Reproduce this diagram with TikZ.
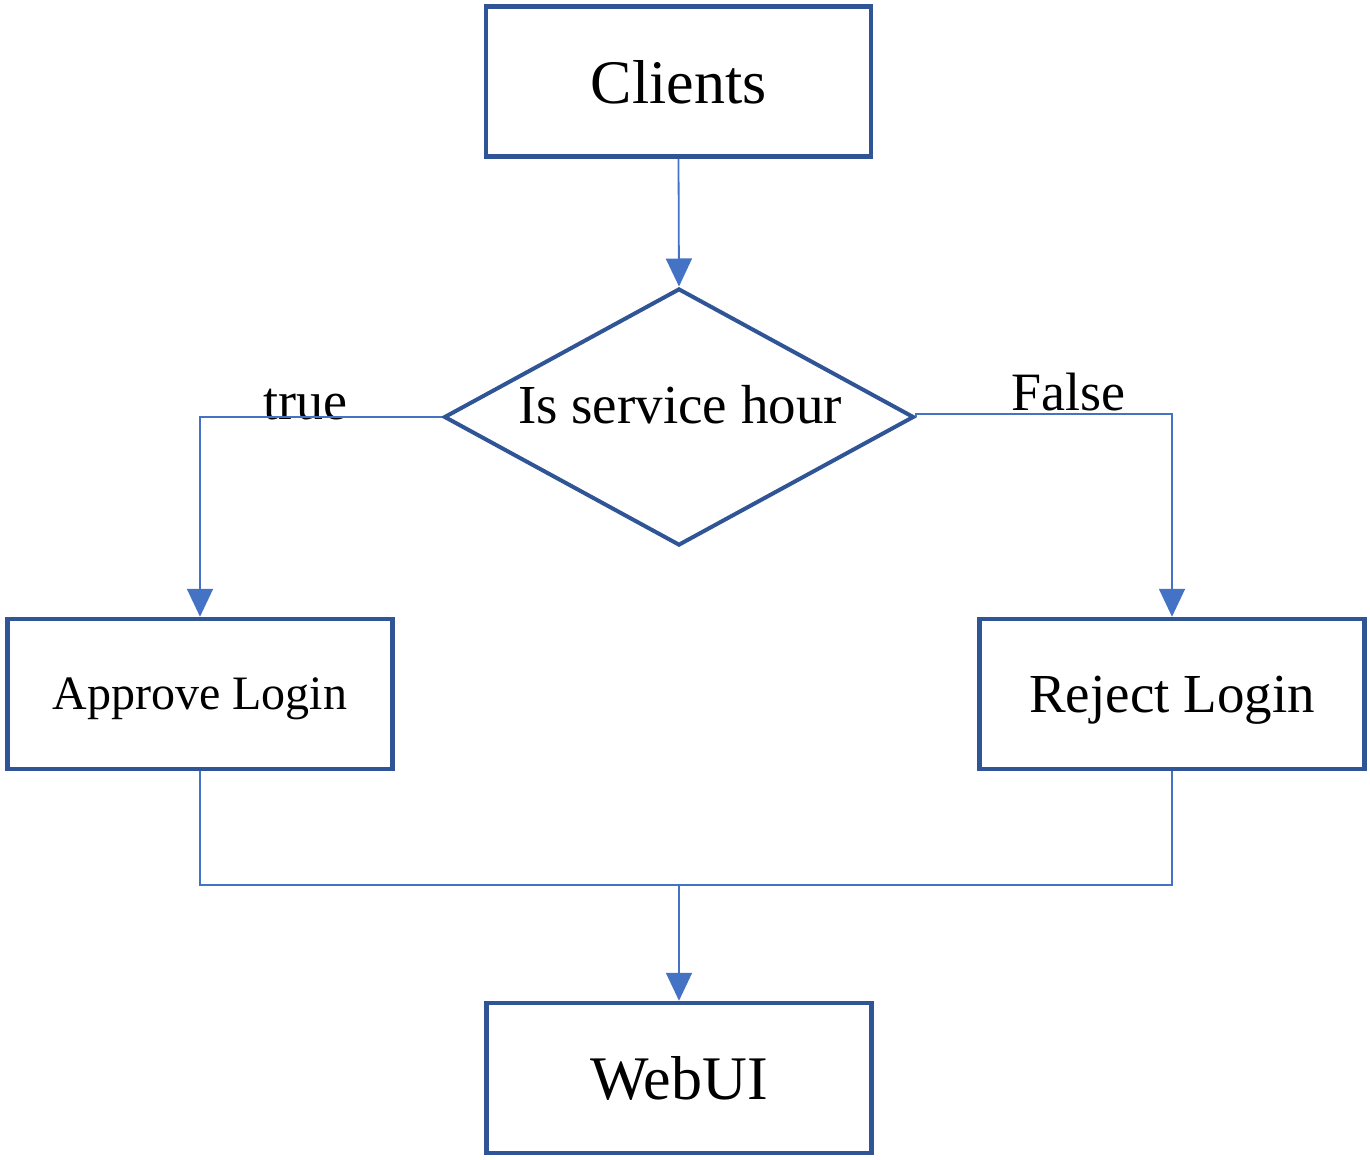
\documentclass[tikz,border=0pt]{standalone}
\usepackage{fontspec}
\setmainfont{Liberation Serif}
\usetikzlibrary{shapes.geometric,arrows.meta}
\definecolor{boxblue}{HTML}{2F5597}
\definecolor{linkblue}{HTML}{4472C4}
\tikzset{
  procbox/.style={draw=boxblue, line width=4.5pt, minimum width=385pt, minimum height=150pt, inner sep=0pt, text=black, text depth=0pt},
  decbox/.style={draw=boxblue, line width=4pt, diamond, minimum width=470pt, minimum height=257pt, inner sep=0pt},
  link/.style={draw=linkblue, line width=1.8pt},
  linkarrow/.style={link, -{Triangle[width=26pt,length=28pt]}, shorten >=0pt},
  lbl/.style={inner sep=0pt, text=black}
}
\begin{document}
\begin{tikzpicture}[x=1pt,y=-1pt]
\useasboundingbox (0,0) rectangle (1370,1159);
\node[procbox, font=\fontsize{62}{70}\selectfont] (clients) at (678.5,81.5) {Clients};
\node[decbox] (dec) at (679,417) {};
\node[lbl, font=\fontsize{55}{60}\selectfont] (dectext) at (680,405) {Is service hour};
\node[procbox, font=\fontsize{48}{56}\selectfont] (approve) at (200,694) {Approve Login};
\node[procbox, font=\fontsize{55}{60}\selectfont] (reject) at (1172,694) {Reject Login};
\node[procbox, font=\fontsize{62}{70}\selectfont] (webui) at (679,1078) {WebUI};
\node[lbl, font=\fontsize{54}{60}\selectfont] (truelbl) at (305,405) {true};
\node[lbl, font=\fontsize{54}{60}\selectfont] (falselbl) at (1068,392) {False};
\coordinate (join) at (679,885);
\draw[linkarrow] (clients.south) -- (dec.north);
\draw[linkarrow] (dec.west) -| (approve.north);
\draw[linkarrow] (dec.east) -- ++(0,-3) -| (reject.north);
\draw[link] (approve.south) |- (join) -| (reject.south);
\draw[linkarrow] (join) -- (webui.north);
\end{tikzpicture}
\end{document}
